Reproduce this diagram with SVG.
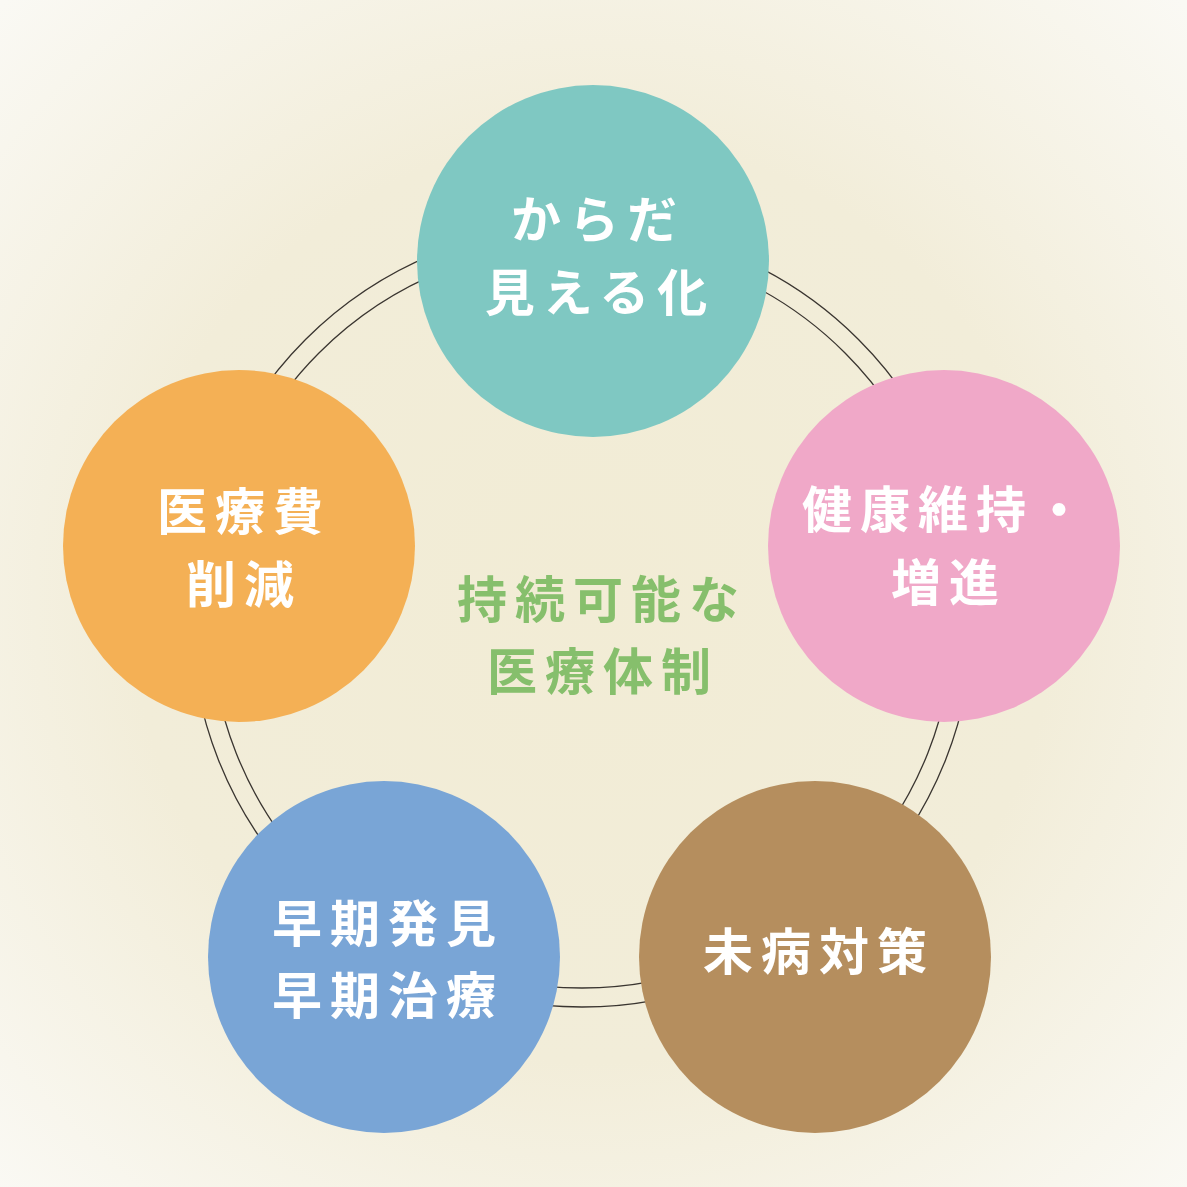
<svg xmlns="http://www.w3.org/2000/svg" width="1187" height="1187" viewBox="0 0 1187 1187">
  <defs>
    <radialGradient id="bg" cx="593" cy="600" r="840" gradientUnits="userSpaceOnUse">
      <stop offset="0" stop-color="#f2ecd5"/>
      <stop offset="0.55" stop-color="#f2edd9"/>
      <stop offset="1" stop-color="#faf9f4"/>
    </radialGradient>
  </defs>
  <style>
    .ring { fill: none; stroke: #3a3530; stroke-width: 1.3; }
    .lbl { font-family: "Noto Sans CJK JP", "Noto Sans", sans-serif; font-size: 50px; font-weight: 700; fill: #ffffff; text-anchor: middle; letter-spacing: 8px; }
    .center { fill: #86bf6c; }
  </style>
  <rect width="1187" height="1187" fill="url(#bg)"/>
  <g id="connectors">
    <circle class="ring" cx="582" cy="616" r="391"/>
    <circle class="ring" cx="582" cy="616" r="372"/>
  </g>
  <g id="node-karada">
    <circle cx="593" cy="261" r="176" fill="#7fc8c2"/>
    <text class="lbl" x="598" y="238">からだ</text>
    <text class="lbl" x="600" y="311">見える化</text>
  </g>
  <g id="node-kenko">
    <circle cx="944" cy="546" r="176" fill="#f0a8c8"/>
    <text class="lbl" x="947" y="528">健康維持・</text>
    <text class="lbl" x="949" y="601">増進</text>
  </g>
  <g id="node-mibyo">
    <circle cx="815" cy="957" r="176" fill="#b58e5e"/>
    <text class="lbl" x="819" y="970">未病対策</text>
  </g>
  <g id="node-soki">
    <circle cx="384" cy="957" r="176" fill="#79a5d6"/>
    <text class="lbl" x="388" y="942">早期発見</text>
    <text class="lbl" x="388" y="1014">早期治療</text>
  </g>
  <g id="node-iryohi">
    <circle cx="239" cy="546" r="176" fill="#f4b055"/>
    <text class="lbl" x="244" y="530">医療費</text>
    <text class="lbl" x="244" y="603">削減</text>
  </g>
  <g id="center-label">
    <text class="lbl center" x="602" y="618">持続可能な</text>
    <text class="lbl center" x="603" y="690">医療体制</text>
  </g>
</svg>
